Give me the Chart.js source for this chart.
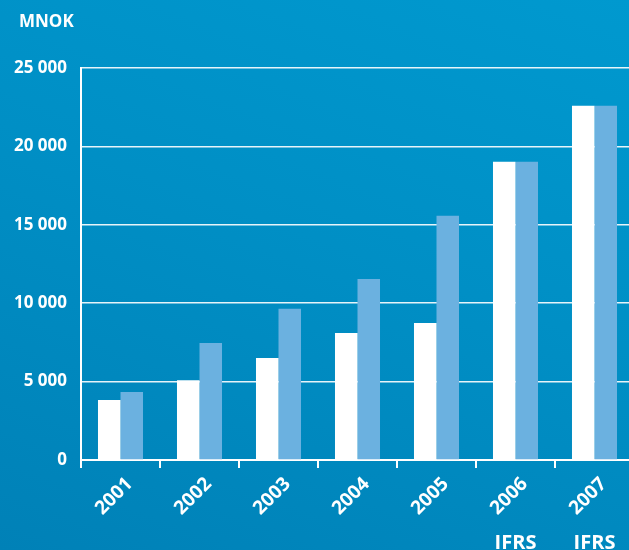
<!DOCTYPE html>
<html>
<head>
<meta charset="utf-8">
<script src="https://cdn.jsdelivr.net/npm/chart.js@4"></script>
<style>
  html, body { margin: 0; padding: 0; overflow: hidden; }
  body {
    width: 629px; height: 550px;
    background: linear-gradient(200deg, #0099cf 0%, #008fc5 45%, #0081b7 100%);
  }
  #wrap { position: relative; width: 638px; height: 550px; }
</style>
</head>
<body>
<div id="wrap"><canvas id="grafico"></canvas></div>
<script>
const anos = ['2001', '2002', '2003', '2004', '2005', '2006', '2007'];
const serieBranca = [3830, 5080, 6510, 8100, 8740, 19020, 22600];
const serieAzul = [4340, 7460, 9640, 11550, 15580, 19020, 22600];
const notas = ['', '', '', '', '', 'IFRS', 'IFRS'];
const unidade = 'MNOK';

const fonte = "'Open Sans', 'DejaVu Sans', sans-serif";

// textos extras: unidade no topo e IFRS embaixo
const textosExtras = {
  id: 'textosExtras',
  afterDraw(chart) {
    const ctx = chart.ctx;
    ctx.save();
    ctx.fillStyle = '#ffffff';
    ctx.font = 'bold 17px ' + fonte;
    ctx.textBaseline = 'alphabetic';
    ctx.textAlign = 'left';
    ctx.fillText(unidade, 19, 27);
    ctx.textAlign = 'center';
    ctx.font = 'bold 20px ' + fonte;
    notas.forEach(function(n, i) {
      if (!n) return;
      ctx.fillText(n, chart.scales.x.getPixelForTick(i), 549);
    });
    ctx.restore();
  }
};

new Chart(document.getElementById('grafico').getContext('2d'), {
  type: 'bar',
  data: {
    labels: anos,
    datasets: [{
      data: serieBranca,
      backgroundColor: '#ffffff'
    }, {
      data: serieAzul,
      backgroundColor: '#6bb1e0'
    }]
  },
  options: {
    responsive: true,
    maintainAspectRatio: false,
    animation: false,
    layout: { padding: { top: 68, right: 4, bottom: 0, left: 0 } },
    datasets: {
      bar: { categoryPercentage: 0.57, barPercentage: 1.0 }
    },
    scales: {
      y: {
        min: 0,
        max: 25000,
        afterFit: function(scale) { scale.width = 81; },
        ticks: {
          stepSize: 5000,
          color: '#ffffff',
          padding: 14,
          font: { family: fonte, size: 17, weight: 'bold' },
          callback: function(v) { return String(v).replace(/\B(?=(\d{3})+(?!\d))/g, ' '); }
        },
        grid: { color: 'rgba(255,255,255,0.9)', lineWidth: 1.5, drawTicks: false },
        border: { color: '#ffffff', width: 2 }
      },
      x: {
        afterFit: function(scale) { scale.height = 90; },
        ticks: {
          color: '#ffffff',
          minRotation: 45,
          maxRotation: 45,
          autoSkip: false,
          padding: 5,
          labelOffset: 9,
          font: { family: fonte, size: 19, weight: 'bold' }
        },
        grid: { offset: true, drawOnChartArea: false, drawTicks: true, tickLength: 8, color: '#ffffff', lineWidth: 2 },
        border: { color: '#ffffff', width: 2 }
      }
    },
    plugins: {
      legend: { display: false },
      tooltip: { enabled: false }
    }
  },
  plugins: [textosExtras]
});
</script>
</body>
</html>
